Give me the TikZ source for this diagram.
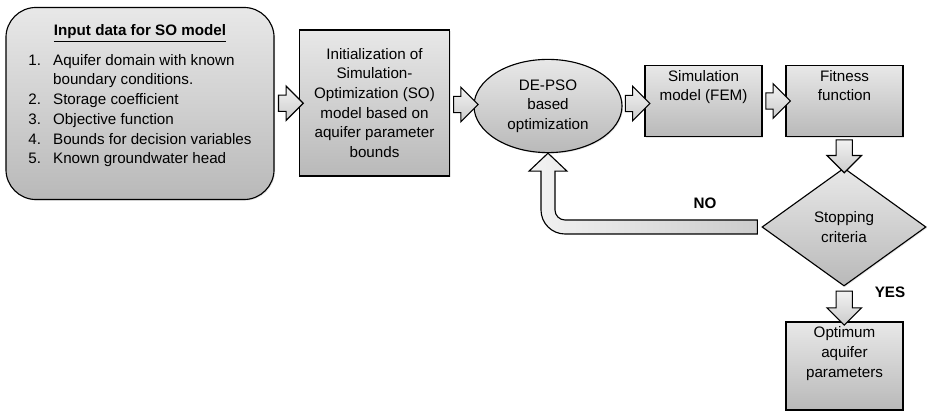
\documentclass[tikz,border=0pt]{standalone}
\usepackage{fontspec}
\setmainfont{Liberation Sans}
\usetikzlibrary{shapes,shapes.arrows,calc,shadows}

\tikzset{
  shade box/.style={draw, thick, top color=gray!18, bottom color=gray!55, align=center,
    font=\fontsize{10.8}{14}\selectfont,
    drop shadow={opacity=0.2, shadow xshift=0.8pt, shadow yshift=-0.8pt}},
  harrow/.style={single arrow, draw, thick, top color=gray!10, bottom color=gray!40, inner sep=0.19cm,
    single arrow head extend=0.225cm, minimum height=#1},
  varrow/.style={harrow=#1, rotate=-90},
  answer/.style={font=\fontsize{10.8}{14}\selectfont\bfseries}
}

\begin{document}
\begin{tikzpicture}[x=0.025cm, y=-0.025cm]
    \useasboundingbox (0,0) rectangle (927,412);

    \node[shade box, rounded corners=0.75cm, minimum width=6.7cm, minimum height=4.8cm] (input) at (140, 103.5)
        {\underline{\textbf{Input data for SO model}}\\[6pt]
         \begin{tabular}{@{}l@{\hspace{0.3cm}}l@{}}
           1. & Aquifer domain with known\\
              & boundary conditions.\\
           2. & Storage coefficient\\
           3. & Objective function\\
           4. & Bounds for decision variables\\
           5. & Known groundwater head
         \end{tabular}\\[8pt]};
    \node[shade box, minimum width=3.75cm, minimum height=3.65cm] (init) at (374.5, 103)
        {Initialization of\\Simulation-\\Optimization (SO)\\model based on\\aquifer parameter\\bounds};
    \node[shade box, ellipse, minimum width=3.7cm, minimum height=2.33cm, inner sep=0pt] (opt) at (548, 106)
        {DE-PSO\\based\\optimization};
    \node[shade box, minimum width=2.925cm, minimum height=1.7cm] (sim) at (703.5, 101)
        {Simulation\\model (FEM)\\[8pt]};
    \node[shade box, minimum width=2.925cm, minimum height=1.7cm] (fit) at (844.5, 101)
        {Fitness\\function\\[8pt]};
    \node[shade box, diamond, minimum width=4.1cm, minimum height=2.95cm, inner sep=0pt] (stop) at (844, 227)
        {Stopping\\criteria};
    \node[shade box, minimum width=2.925cm, minimum height=2.2cm] (optim) at (844.5, 366)
        {Optimum\\aquifer\\parameters\\[6pt]};

    \node[answer] (no) at (705, 203) {NO};
    \node[answer] (yes) at (890, 292) {YES};

    \path (input.east) -- node[harrow=0.62cm] {} (init.west);
    \path (init.east) -- node[harrow=0.6cm] {} (opt.west);
    \path (opt.east) -- node[harrow=0.6cm] {} (sim.west);
    \path (sim.east) -- node[harrow=0.6cm] {} (fit.west);
    \path (fit.south) -- node[varrow=0.82cm] {} (stop.north);
    \path (stop.south) -- node[varrow=0.85cm] {} (optim.north);

    % loop back to the optimizer
    \draw[thick, left color=gray!10, right color=gray!40]
        ($(stop.west)+(-4,-7)$)
        [rounded corners=0.25cm] -- ($(opt.south |- stop.west)+(7,-7)$) [sharp corners]
        -- ($(opt.south)+(7,18)$) -- ($(opt.south)+(19,18)$) -- (opt.south)
        -- ($(opt.south)+(-19,18)$) -- ($(opt.south)+(-7,18)$)
        [rounded corners=0.6cm] -- ($(opt.south |- stop.west)+(-7,7)$) [sharp corners]
        -- ($(stop.west)+(-4,7)$) -- cycle;
\end{tikzpicture}
\end{document}
